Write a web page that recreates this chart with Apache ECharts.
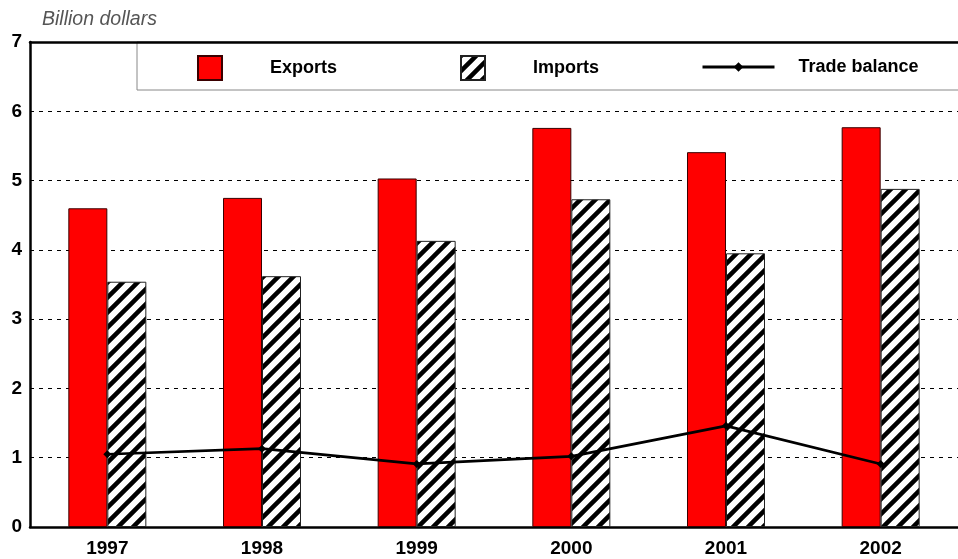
<!DOCTYPE html>
<html>
<head>
<meta charset="utf-8">
<script src="https://cdn.jsdelivr.net/npm/echarts@6/dist/echarts.min.js"></script>
<style>html,body{margin:0;padding:0;background:#fff}#c{width:958px;height:559px}</style>
</head>
<body>
<div id="c"></div>
<script>
const categories = ['1997', '1998', '1999', '2000', '2001', '2002'];
const exportsData = [4.60, 4.75, 5.03, 5.76, 5.41, 5.77];
const importsData = [3.54, 3.62, 4.13, 4.73, 3.95, 4.88];
const balanceData = [1.05, 1.13, 0.91, 1.02, 1.46, 0.91];
const yTicks = [0, 1, 2, 3, 4, 5, 6, 7];

function hatch() {
  const s = 15;
  const c = document.createElement('canvas');
  c.width = s; c.height = s;
  const g = c.getContext('2d');
  g.fillStyle = '#fff'; g.fillRect(0, 0, s, s);
  g.strokeStyle = '#000'; g.lineWidth = 4.5;
  g.beginPath();
  for (let k = -1; k <= 1; k++) {
    g.moveTo(k * s - 2, s + 2);
    g.lineTo(k * s + s + 2, -2);
  }
  g.stroke();
  return c;
}
const hatchColor = { image: hatch(), repeat: 'repeat' };

const chart = echarts.init(document.getElementById('c'));
const font = 'Arial, "Liberation Sans", sans-serif';
const legendText = { fontFamily: font, fontWeight: 'bold', fontSize: 18, color: '#000', padding: [0, 0, 0, 43] };
chart.setOption({
  animation: false,
  backgroundColor: '#fff',
  title: {
    text: 'Billion dollars', left: 37, top: 5,
    textStyle: { fontFamily: font, fontStyle: 'italic', fontWeight: 'normal', fontSize: 19.5, color: '#555' }
  },
  graphic: [{
    type: 'rect', z: -1,
    shape: { x: 137, y: 42, width: 830, height: 48 },
    style: { fill: '#fff', stroke: '#888', lineWidth: 1 }
  }],
  legend: [
    { data: [{ name: 'Exports', icon: 'rect' }], left: 192, top: 50, itemWidth: 24, itemHeight: 24, textStyle: legendText, selectedMode: false },
    { data: [{ name: 'Imports', icon: 'rect' }], left: 455, top: 50, itemWidth: 24, itemHeight: 24, textStyle: legendText, selectedMode: false },
    { data: ['Trade balance'], left: 696, top: 53, itemWidth: 72, itemHeight: 12,
      lineStyle: { width: 3, color: '#000' },
      textStyle: Object.assign({}, legendText, { padding: [0, 0, 0, 19] }), selectedMode: false }
  ],
  grid: { left: 30, top: 42, width: 935, bottom: 32, containLabel: false },
  xAxis: [{
    type: 'category', data: categories,
    axisLine: { lineStyle: { color: '#000', width: 2.5 } },
    axisTick: { show: false },
    axisLabel: { fontFamily: font, fontWeight: 'bold', fontSize: 19, color: '#000', margin: 12 }
  }, {
    type: 'category', data: categories, position: 'top',
    axisLine: { lineStyle: { color: '#000', width: 2.5 } },
    axisTick: { show: false }, axisLabel: { show: false }
  }],
  yAxis: {
    type: 'value', min: yTicks[0], max: yTicks[yTicks.length - 1], interval: 1,
    axisLine: { show: true, lineStyle: { color: '#000', width: 2.5 } },
    axisTick: { show: false },
    axisLabel: { fontFamily: font, fontWeight: 'bold', fontSize: 19, color: '#000', margin: 8 },
    splitLine: { lineStyle: { color: '#000', type: [4, 5], width: 1 } }
  },
  series: [{
    name: 'Exports', type: 'bar', data: exportsData, barWidth: 39, barGap: '0%',
    itemStyle: { color: '#ff0000', borderColor: '#3a0000', borderWidth: 1 }
  }, {
    name: 'Imports', type: 'bar', data: importsData, barWidth: 39,
    itemStyle: { color: hatchColor, borderColor: '#222', borderWidth: 1 }
  }, {
    name: 'Trade balance', type: 'line', data: balanceData, z: 5,
    symbol: 'diamond', symbolSize: 8,
    lineStyle: { color: '#000', width: 2.7 },
    itemStyle: { color: '#000' }
  }]
});
</script>
</body>
</html>
